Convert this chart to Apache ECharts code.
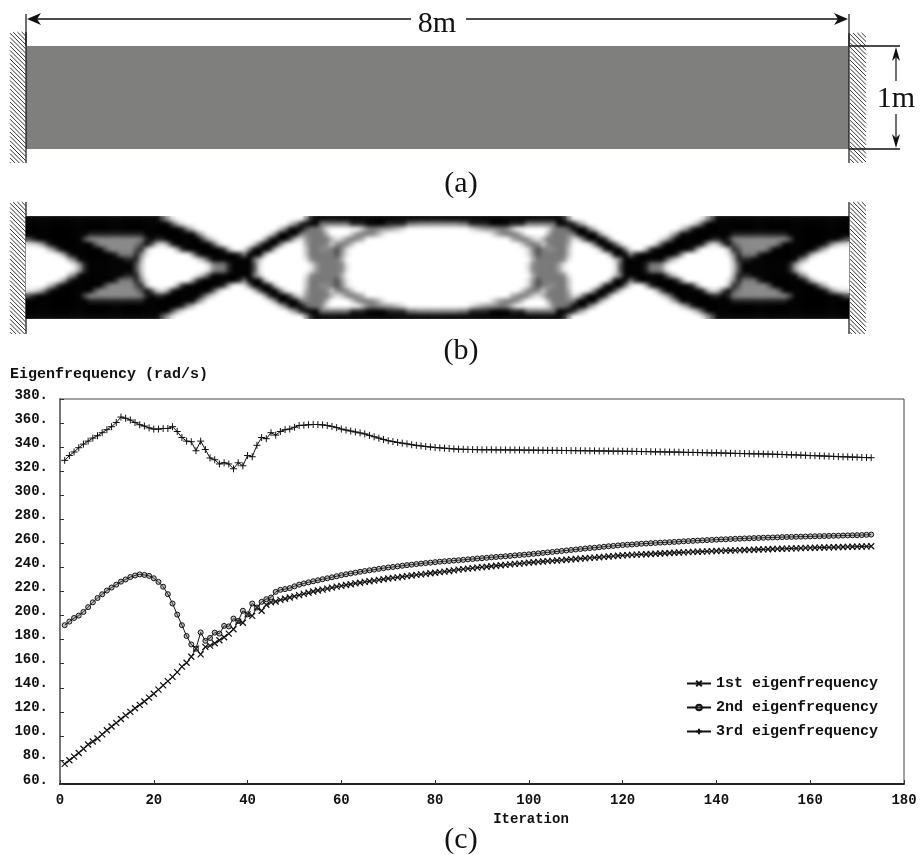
<!DOCTYPE html>
<html><head><meta charset="utf-8">
<style>html,body{margin:0;padding:0;background:#fff}#c{width:921px;height:855px}
#soft{position:absolute;left:26px;top:216px;width:823px;height:103px;backdrop-filter:blur(2px);-webkit-backdrop-filter:blur(2px);pointer-events:none}</style>
<script src="https://cdn.jsdelivr.net/npm/echarts@6/dist/echarts.min.js"></script>
</head><body><div id="c"></div><div id="soft"></div>
<script>
// Eigenfrequencies; index 0 is iteration 1
const first = [76.7,79.7,82.8,85.8,89.3,92.8,95.3,97.8,101.3,104.7,107.8,110.8,114,117,120,123,125.8,128.6,131.8,135,138.5,142,145.5,149,153,157.5,160.8,165.8,172.5,167.8,174,175,177,179.5,182,185,188.6,195,194,201,199.7,206.7,204,209,211,211.7,213,214,215,216,217,218,219,220,220.8,221.6,222.4,223.2,224,224.7,
225.4,226,226.7,227.3,228,228.5,229.1,229.7,230.2,230.8,231.3,231.8,232.3,232.8,233.3,233.8,234.2,234.7,235.2,235.6,236.1,236.5,237,237.6,238.2,
238.6,239,239.4,239.8,240.2,240.6,241,241.4,241.8,242.1,242.5,242.9,243.2,243.6,244,
244.3,244.6,244.9,245.2,245.5,245.8,246.1,246.4,246.7,247,
247.3,247.6,247.9,248.2,248.5,248.8,249.1,249.4,249.7,250,
250.2,250.4,250.6,250.8,251,251.2,251.4,251.6,251.8,252,
252.2,252.4,252.5,252.7,252.9,253,253.2,253.4,253.5,253.7,
253.8,254,254.1,254.2,254.4,254.5,254.6,254.7,254.9,255,
255.1,255.3,255.4,255.5,255.6,255.8,255.9,256,256.2,256.3,
256.4,256.5,256.6,256.7,256.8,256.9,257,257.1,257.2,257.3,257.4,257.5,257.6];
const second = [192,195,198,200,203,207,211,214.6,217.7,220.8,223.3,225.7,228.2,230,232,233.3,234.2,233.8,233,231,228,224,217.8,210,200.8,192,183,176,172.5,186,179,181.4,185.8,185,191.4,191,197.5,195.5,204,201,210,206.7,211.4,213.6,215,219.7,221.4,222,222.8,224.3,225.7,226.7,227.6,228.5,229.3,230.2,231,231.8,232.7,233.6,
234.3,235,235.7,236.4,237,237.6,238.2,238.8,239.4,240,240.4,240.9,241.4,241.9,242.3,242.8,243.2,243.6,244,244.4,244.8,245.1,245.4,245.7,246,
246.3,246.7,247,247.4,247.7,248,248.4,248.7,249,249.3,249.6,250,250.3,250.6,250.9,
251.3,251.7,252.1,252.5,252.9,253.3,253.7,254.1,254.5,254.9,255.3,255.7,256.1,256.4,256.8,257.2,257.6,257.9,258.3,
258.6,258.9,259.1,259.4,259.7,259.9,260.1,260.4,260.6,260.8,261,
261.2,261.4,261.7,261.9,262.1,262.3,262.5,262.7,262.9,263.1,
263.3,263.4,263.6,263.8,263.9,264.1,264.2,264.4,264.5,264.7,
264.8,264.9,265,265.2,265.3,265.4,265.5,265.6,265.7,265.8,
265.9,266,266.1,266.2,266.3,266.4,266.5,266.6,266.7,266.8,266.9,267.1,267.3];
const third = [329,333,336,339.5,342.5,345,347.5,349.5,352,354.5,357,360.5,365,364,362.5,360.5,358.6,357.5,356,355,355,355.5,355.5,357,353,348,345,344.5,337,345,338,331,329.5,326,327,326,322,327,324.5,333,332,341.5,348,347,352,350,353,354.5,355,356.5,358,
358.2,358.6,358.8,358.8,358.5,358,357.2,356.2,355,354.2,353.4,352.6,351.8,351,349.8,348.6,347.5,346.4,345.3,344.6,343.9,343.3,342.7,342,341.5,341,340.5,340.1,339.7,339.4,339.1,338.8,338.5,338.3,
338.2,338.1,338,337.9,337.8,337.8,337.8,337.7,337.7,337.7,337.6,337.6,337.6,337.5,337.5,
337.5,337.4,337.4,337.3,337.3,337.3,337.2,337.2,337.1,337.1,
337,337,336.9,336.9,336.8,336.8,336.7,336.7,336.6,336.6,
336.5,336.5,336.4,336.3,336.3,336.2,336.1,336.1,336,335.9,
335.9,335.8,335.7,335.6,335.6,335.5,335.4,335.3,335.2,335.2,
335.1,335,334.9,334.8,334.7,334.6,334.5,334.4,334.4,334.3,
334.2,334.1,334,333.9,333.7,333.6,333.5,333.3,333.2,333,
332.9,332.7,332.6,332.4,332.3,332.1,332,331.9,331.7,331.6,331.4,331.3,331.2];
const seriesNames = ['1st eigenfrequency','2nd eigenfrequency','3rd eigenfrequency'];
// Panel (b): material density 0-9, upper-left quarter of the symmetric beam
const densityQuarter = [
 '9999999999 9999999999 9999997410 0000000000 0000000000 0000489999 9999999999 9999999999',
 '9999999999 9999999999 9999999973 1000000000 0000000000 0258999666 6668889999 8888665555',
 '9999999999 9999999999 9999999999 8520000000 0000000002 6999766510 0000025654 4321000000',
 '9999999999 9988888888 8889999999 9996200000 0000000159 9996566630 0002566531 0000000000',
 '7899999999 9755555555 5568988999 9999731000 0000003899 9721466663 1256530000 0000000000',
 '1125899999 9997555555 5679721389 9999997200 0000279996 1000366652 5652000000 0000000000',
 '0000258999 9999975555 5782000003 8999999983 0016999820 0000266556 7510000000 0000000000',
 '0000001489 9999999866 6851000000 0048999999 9869993000 0000266666 7410000000 0000000000',
 '0000000036 9999999998 8830000000 0001379999 9999620000 0000156666 6300000000 0000000000',
 '0000000001 4899999999 9720000000 0000015668 9999710000 0000014666 6510000000 0000000000'
];
const densityGreys = ['#ffffff','#e4e4e4','#c8c8c8','#b0b0b0','#9c9c9c','#8a8a8a','#787878','#505050','#222222','#000000'];

const quarter = densityQuarter.map(r => r.replace(/ /g,'').split('').map(Number));
const density = [];
quarter.forEach((row, r) => row.forEach((v, c) => {
  [[c, r],[159-c, r],[c, 19-r],[159-c, 19-r]].forEach(p => density.push([p[0], p[1], v]));
}));
const colIdx = Array.from({length:160},(_,i)=>i), rowIdx = Array.from({length:20},(_,i)=>i);
const pts = a => a.map((v,i)=>[i+1,v]);

const INK='#111', SERIF='"Liberation Serif"', MONO='"Liberation Mono"';
const g=[];
const seg=(x1,y1,x2,y2,w=1,c=INK)=>g.push({type:'line',silent:true,shape:{x1,y1,x2,y2},style:{stroke:c,lineWidth:w}});
const poly=(points)=>g.push({type:'polygon',silent:true,shape:{points},style:{fill:INK}});
const txt=(text,x,y,size)=>g.push({type:'text',silent:true,x,y,style:{text,fill:INK,font:size+'px '+SERIF,align:'center',verticalAlign:'middle'}});
function wall(xL,xR,yT,yB,lineX){
  seg(lineX,yT,lineX,yB,1.2);
  const d=xR-xL;
  for(let y0=yT-d;y0<yB;y0+=4.3){
    let x1=xL,y1=y0,x2=xR,y2=y0+d;
    if(y1<yT){x1+=yT-y1;y1=yT;}
    if(y2>yB){x2-=y2-yB;y2=yB;}
    seg(x1,y1,x2,y2,1,'#333');
  }
}
// (a) beam
g.push({type:'rect',silent:true,shape:{x:26,y:46,width:823,height:103},style:{fill:'#7f7f7d'}});
wall(10,26,32,163,26); wall(850,866,33,163,849);
wall(10,26,202,334,26); wall(850,866,202,334,849);
// 8m dimension
seg(26,14,26,46,1.2); seg(849,14,849,46,1.2);
seg(30,19,411,19,1.6); seg(466,19,845,19,1.6);
poly([[27,19],[41,13],[37,19],[41,25]]); poly([[848,19],[834,13],[838,19],[834,25]]);
txt('8m',437,24,30);
// 1m dimension
seg(849,46,900,46,1.6); seg(849,149,900,149,1.6);
seg(896,50,896,81,1.2); seg(896,114,896,145,1.2);
poly([[896,47],[892,61],[896,57],[900,61]]); poly([[896,148],[892,134],[896,138],[900,134]]);
txt('1m',896,99,30);
txt('(a)',461,184,30); txt('(b)',461,351,30); txt('(c)',461,840,30);

const lineSeries=(name,data,symbol,size,color,bw)=>({type:'line',name,data:pts(data),xAxisIndex:0,yAxisIndex:0,symbol,symbolSize:size,showAllSymbol:true,silent:true,
  lineStyle:{color:INK,width:1},itemStyle:{color:color,borderColor:INK,borderWidth:bw},emphasis:{disabled:true}});
const X='path://M0 0L10 10M10 0L0 10', P='path://M5 0L5 10M0 5L10 5';

const chart=echarts.init(document.getElementById('c'),null,{renderer:'canvas'});
chart.setOption({
  animation:false,backgroundColor:'#fff',
  title:{text:'Eigenfrequency (rad/s)',left:10,top:367,padding:0,textStyle:{fontFamily:MONO,fontSize:15,fontWeight:'bold',color:INK}},
  legend:{orient:'vertical',left:686,top:676,padding:0,itemWidth:24,itemHeight:7,itemGap:9,data:seriesNames,selectedMode:false,
    textStyle:{fontFamily:MONO,fontSize:15,fontWeight:'bold',color:INK}},
  grid:[{left:60,top:399,width:844,height:385,show:true,borderColor:'#444',borderWidth:1,backgroundColor:'#fff'},
        {left:26,top:216.5,width:823,height:102,show:false}],
  xAxis:[{type:'value',gridIndex:0,min:0,max:180,interval:20,name:'Iteration',nameLocation:'middle',nameGap:28,
      nameTextStyle:{fontFamily:MONO,fontSize:14,fontWeight:'bold',color:INK,padding:[0,0,0,98]},
      axisLine:{lineStyle:{color:'#222',width:2}},axisTick:{inside:true,length:4,lineStyle:{color:'#333'}},splitLine:{show:false},
      axisLabel:{margin:9,fontFamily:MONO,fontSize:14,fontWeight:'bold',color:INK}},
    {type:'category',gridIndex:1,data:colIdx,show:false}],
  yAxis:[{type:'value',gridIndex:0,min:60,max:380,interval:20,
      axisLine:{show:true,lineStyle:{color:'#777',width:2}},axisTick:{show:true,inside:true,length:4,lineStyle:{color:'#333'}},splitLine:{show:false},
      axisLabel:{margin:12,formatter:'{value}.',fontFamily:MONO,fontSize:14,fontWeight:'bold',color:INK,verticalAlign:'bottom',lineHeight:8}},
    {type:'category',gridIndex:1,data:rowIdx,inverse:true,show:false}],
  visualMap:{show:false,type:'continuous',min:0,max:9,seriesIndex:3,inRange:{color:densityGreys}},
  series:[
    lineSeries(seriesNames[0],first,X,6,'none',1.2),
    lineSeries(seriesNames[1],second,'circle',5,'rgba(90,90,90,0.35)',1),
    lineSeries(seriesNames[2],third,P,7,'none',1),
    {type:'heatmap',xAxisIndex:1,yAxisIndex:1,data:density,silent:true,progressive:0,emphasis:{disabled:true}}
  ],
  graphic:g
});
</script></body></html>
